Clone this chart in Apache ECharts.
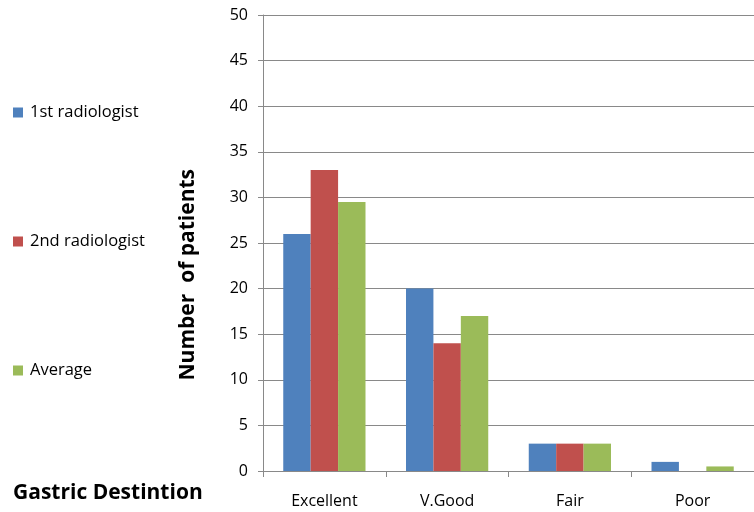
<!DOCTYPE html>
<html>
<head>
<meta charset="utf-8">
<script src="https://cdn.jsdelivr.net/npm/echarts@6/dist/echarts.min.js"></script>
<style>
  html, body { margin: 0; padding: 0; background: #fff; }
  #chart { width: 754px; height: 512px; }
</style>
</head>
<body>
<div id="chart"></div>
<script>
// Gastric distention grades rated by two radiologists
const categories = ['Excellent', 'V.Good', 'Fair', 'Poor'];
const firstRadiologist = [26, 20, 3, 1];
const secondRadiologist = [33, 14, 3, 0];
const average = [29.5, 17, 3, 0.5];
const seriesNames = ['1st radiologist', '2nd radiologist', 'Average'];
const yTicks = { min: 0, max: 50, interval: 5 };

const FONT = '"Open Sans", Lato, sans-serif';
const chart = echarts.init(document.getElementById('chart'));

chart.setOption({
  animation: false,
  color: ['#4F81BD', '#C0504D', '#9BBB59'],
  title: {
    text: 'Gastric Destintion',
    left: 13,
    top: 483,
    padding: 0,
    textStyle: { fontFamily: FONT, fontSize: 21, fontWeight: 'bold', color: '#000' }
  },
  legend: {
    orient: 'vertical',
    left: 13,
    top: 104,
    padding: 0,
    icon: 'rect',
    itemWidth: 10,
    itemHeight: 10,
    itemGap: 112,
    data: seriesNames,
    textStyle: { fontFamily: FONT, fontSize: 16.5, lineHeight: 16, color: '#000', padding: [0, 0, 0, 2] }
  },
  graphic: [{
    type: 'text',
    left: 178,
    top: 169,
    rotation: Math.PI / 2,
    style: {
      text: 'Number  of patients',
      font: 'bold 21px ' + FONT,
      fill: '#000'
    }
  }],
  grid: { left: 263, right: -6, top: 15, bottom: 41 },
  xAxis: {
    type: 'category',
    data: categories,
    axisLine: { lineStyle: { color: '#898989', width: 1 } },
    axisTick: { show: true, length: 6, lineStyle: { color: '#898989' } },
    axisLabel: { margin: 22, fontFamily: FONT, fontSize: 16, color: '#000' }
  },
  yAxis: {
    type: 'value',
    min: yTicks.min,
    max: yTicks.max,
    interval: yTicks.interval,
    axisLine: { show: true, lineStyle: { color: '#898989', width: 1 } },
    axisTick: { show: true, length: 5, lineStyle: { color: '#898989' } },
    axisLabel: { margin: 15, fontFamily: FONT, fontSize: 16, color: '#000' },
    splitLine: { lineStyle: { color: '#898989', width: 1 } }
  },
  series: [
    { name: seriesNames[0], type: 'bar', data: firstRadiologist, barGap: '0%', barCategoryGap: '33%' },
    { name: seriesNames[1], type: 'bar', data: secondRadiologist, barGap: '0%', barCategoryGap: '33%' },
    { name: seriesNames[2], type: 'bar', data: average, barGap: '0%', barCategoryGap: '33%' }
  ]
});
</script>
</body>
</html>
